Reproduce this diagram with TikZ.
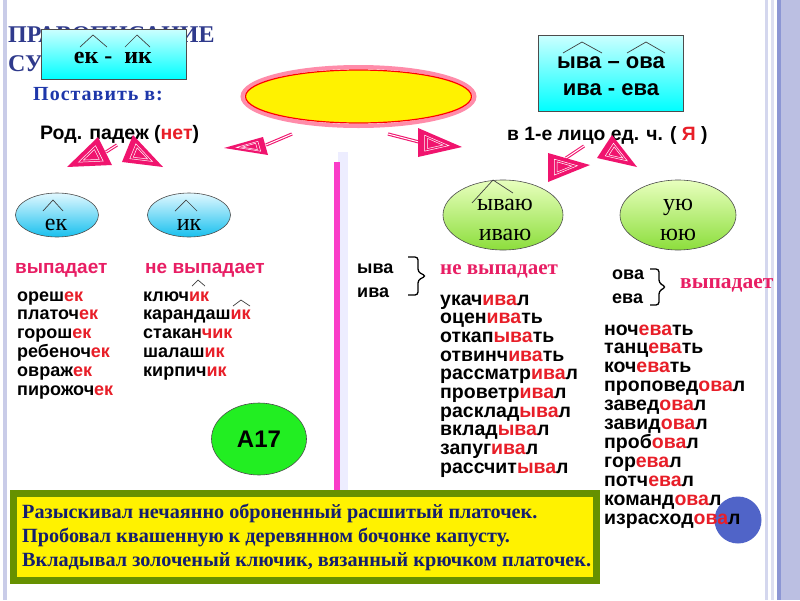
\documentclass[tikz,border=0pt]{standalone}
\usepackage{fontspec}
\setmainfont{Liberation Serif}
\newfontfamily\ar{Liberation Sans}
\newfontfamily\tm{Liberation Serif}
\usetikzlibrary{shapes.geometric,calc}
\definecolor{apink}{RGB}{240,20,110}
\definecolor{wred}{RGB}{232,30,40}
\definecolor{lpink}{RGB}{232,30,100}
\definecolor{titleblue}{RGB}{47,58,140}
\definecolor{postblue}{RGB}{30,55,170}
\definecolor{navy}{RGB}{20,30,110}
\definecolor{olive}{RGB}{102,145,0}
\definecolor{barpink}{RGB}{250,60,200}
\definecolor{lav}{RGB}{187,191,226}
\definecolor{lavd}{RGB}{140,150,212}
\definecolor{lavl}{RGB}{212,215,238}
\definecolor{bluec}{RGB}{80,100,200}
\definecolor{glowpink}{RGB}{255,140,170}
\newcommand\rd[1]{\textcolor{wred}{#1}}
\newcommand\fsz[1]{\fontsize{#1}{#1}\selectfont}
\newcommand\phead[4]{%
  \coordinate (#1a) at #2; \coordinate (#1b) at #3; \coordinate (#1c) at #4;
  \coordinate (#1g) at (barycentric cs:#1a=1,#1b=1,#1c=1);
  \fill[apink] (#1a)--(#1b)--(#1c)--cycle;
  \draw[white,line width=0.5pt] ($(#1g)!0.55!(#1a)$)--($(#1g)!0.55!(#1b)$)--($(#1g)!0.55!(#1c)$)--cycle;
  \draw[white,line width=0.5pt] ($(#1g)!0.35!(#1a)$)--($(#1g)!0.35!(#1b)$)--($(#1g)!0.35!(#1c)$)--cycle;
}
\tikzset{
  word/.style={anchor=base west, inner sep=0pt, font=\ar\bfseries\fsz{18}},
  wordr/.style={anchor=base west, inner sep=0pt, font=\ar\bfseries\fsz{19.5}},
  caret/.style={draw=black!75, line width=0.7pt},
  shaft/.style={draw=apink, line width=1.1pt, double=white, double distance=1pt},
  cyanbox/.style={draw=black!70, line width=0.8pt, top color=cyan!20, bottom color=cyan, inner sep=0pt},
  blueell/.style={ellipse, draw=black!70, line width=0.6pt, top color={rgb,255:red,225;green,248;blue,255}, bottom color={rgb,255:red,24;green,192;blue,238}, inner sep=0pt},
  greenell/.style={ellipse, draw=black!70, line width=0.6pt, top color={rgb,255:red,232;green,255;blue,190}, bottom color={rgb,255:red,140;green,222;blue,60}, inner sep=0pt},
  brace/.style={draw=black, line width=1.3pt, rounded corners=3pt},
}
\begin{document}
\begin{tikzpicture}[x=1pt,y=-1pt]
\useasboundingbox (0,0) rectangle (800,600);
\fill[white] (0,0) rectangle (800,600);
% borders
\fill[lav!80] (3,0) rectangle (7,600);
\fill[lavl] (765,0) rectangle (767.5,600);
\fill[lavl!80] (771,0) rectangle (774,600);
\fill[lavd] (777,0) rectangle (781,600);
\fill[lav] (781,0) rectangle (800,600);
% title
\node[anchor=base west, inner sep=0pt, font=\tm\bfseries\fsz{24}, text=titleblue] (t1) at (8,42) {ПРАВОПИСАНИЕ};
\node[anchor=base west, inner sep=0pt, font=\tm\bfseries\fsz{24}, text=titleblue] (t2) at (8,71) {СУФФИКСОВ};
% cyan boxes
\node[cyanbox, minimum width=145pt, minimum height=50pt] (box1) at (113.5,54) {};
\node[anchor=base, inner sep=0pt, font=\tm\bfseries\fsz{24}] (box1t) at (113,63) {ек -\ \ ик};
\draw[caret] (80,47)--(93,35)--(107,47);
\draw[caret] (125,47)--(137,35)--(150,47);
\node[cyanbox, minimum width=145pt, minimum height=76pt] (box2) at (610.5,73) {};
\node[anchor=base, inner sep=0pt, font=\ar\bfseries\fsz{22}] (box2a) at (611,68) {ыва – ова};
\node[anchor=base, inner sep=0pt, font=\ar\bfseries\fsz{22}] (box2b) at (611,95) {ива - ева};
\draw[caret] (563,53)--(582,42)--(602,53);
\draw[caret] (627,53)--(646,42)--(665,53);
% Поставить в:
\node[anchor=base west, inner sep=0pt, font=\tm\bfseries\fsz{20}\addfontfeatures{LetterSpace=5}, text=postblue] (post) at (33,100) {Поставить в:};
% yellow ellipse
\node[ellipse, minimum width=232pt, minimum height=59pt, draw=glowpink, line width=4pt] (yelg) at (358.5,96.5) {};
\node[ellipse, minimum width=226pt, minimum height=53pt, fill=yellow, draw=red, line width=1.2pt] (yel) at (358.5,96.5) {};
% headings
\node[anchor=base west, inner sep=0pt, font=\ar\bfseries\fsz{19.5}] (rod) at (40,139) {Род. падеж (\rd{нет})};
\node[anchor=base west, inner sep=0pt, font=\ar\bfseries\fsz{19.3}] (lico) at (507,140) {в 1-е лицо ед. ч. ( \rd{Я} )};
% arrows
\coordinate (s1a) at (292,134); \coordinate (s1b) at (266,145);
\draw[shaft] (s1a)--(s1b);
\phead{h1}{(224,148)}{(263,137)}{(268,155)}
\coordinate (s2a) at (117,145); \coordinate (s2b) at (106,152);
\draw[shaft] (s2a)--(s2b);
\phead{h2}{(67,167)}{(98,137)}{(112,165)}
\phead{h3}{(122,162)}{(133,135)}{(163,167)}
\coordinate (s4a) at (388,134); \coordinate (s4b) at (419,142);
\draw[shaft] (s4a)--(s4b);
\phead{h4}{(418,128)}{(462,147)}{(418,157)}
\coordinate (s5a) at (584,146); \coordinate (s5b) at (566,158);
\draw[shaft] (s5a)--(s5b);
\phead{h5}{(548,153)}{(590,165)}{(548,182)}
\phead{h6}{(597,158)}{(612,135)}{(637,167)}
% pink bar
\fill[blue!7] (338,152) rectangle (348,497);
\fill[barpink] (334,162) rectangle (340,492);
% ellipses
\node[blueell, minimum width=83pt, minimum height=44pt] (ek) at (57,215) {};
\node[anchor=base, inner sep=0pt, font=\tm\fsz{24}] (ekt) at (56,230) {ек};
\draw[caret] (43,211)--(53,200)--(63,211);
\node[blueell, minimum width=83pt, minimum height=44pt] (ik) at (189,215) {};
\node[anchor=base, inner sep=0pt, font=\tm\fsz{24}] (ikt) at (189,230) {ик};
\draw[caret] (175,211)--(186,200)--(197,211);
\node[greenell, minimum width=120pt, minimum height=70pt] (yv) at (503,215) {};
\node[anchor=base, inner sep=0pt, font=\tm\fsz{24}] (yv1) at (505,210) {ываю};
\node[anchor=base, inner sep=0pt, font=\tm\fsz{24}] (yv2) at (505,240) {иваю};
\draw[caret] (472,203)--(493,180)--(513,193);
\node[greenell, minimum width=116pt, minimum height=70pt] (uy) at (678,215) {};
\node[anchor=base, inner sep=0pt, font=\tm\fsz{24}] (uy1) at (678,210) {ую};
\node[anchor=base, inner sep=0pt, font=\tm\fsz{24}] (uy2) at (678,240) {юю};
% labels
\node[anchor=base west, inner sep=0pt, font=\ar\bfseries\fsz{19}, text=lpink] (vyp1) at (15,273) {выпадает};
\node[anchor=base west, inner sep=0pt, font=\ar\bfseries\fsz{19}, text=lpink] (nvyp1) at (145,273) {не выпадает};
\node[word] (yva) at (357,273) {ыва};
\node[word] (iva) at (357,297) {ива};
\draw[brace] (408,257) -| (418,272) -- (426,276) -- (418,280) |- (408,295);
\node[anchor=base west, inner sep=0pt, font=\tm\bfseries\fsz{21}, text=lpink] (nvyp2) at (440,274) {не выпадает};
\node[word] (ova) at (612,279) {ова};
\node[word] (eva) at (612,303) {ева};
\draw[brace] (650,269) -| (659,283) -- (666,287) -- (659,291) |- (650,305);
\node[anchor=base west, inner sep=0pt, font=\tm\bfseries\fsz{21.5}, text=lpink] (vyp2) at (680,288) {выпадает};
% lists
\foreach \w [count=\i from 0] in {{ореш\rd{ек}},{платоч\rd{ек}},{горош\rd{ек}},{ребеноч\rd{ек}},{овраж\rd{ек}},{пирожоч\rd{ек}}}
  \node[word] (le\i) at (17,{301+\i*18.8}) {\w};
\foreach \w [count=\i from 0] in {{ключ\rd{ик}},{карандаш\rd{ик}},{стакан\rd{чик}},{шалаш\rd{ик}},{кирпич\rd{ик}}}
  \node[word] (li\i) at (143,{301+\i*18.8}) {\w};
\draw[caret] (192,286)--(198,280)--(205,286);
\draw[caret] (233,306)--(241,300)--(250,306);
\foreach \w [count=\i from 0] in {{укач\rd{ива}л},{оцен\rd{ива}ть},{откап\rd{ыва}ть},{отвинч\rd{ива}ть},{рассматр\rd{ива}л},{проветр\rd{ива}л},{расклад\rd{ыва}л},{вклад\rd{ыва}л},{запуг\rd{ива}л},{рассчит\rd{ыва}л}}
  \node[wordr] (ly\i) at (440,{305+\i*18.7}) {\w};
\node[circle, fill=bluec, minimum size=47pt, inner sep=0pt] (bc) at (738,520) {};
\foreach \w [count=\i from 0] in {{ноч\rd{ева}ть},{танц\rd{ева}ть},{коч\rd{ева}ть},{проповед\rd{ова}л},{завед\rd{ова}л},{завид\rd{ова}л},{проб\rd{ова}л},{гор\rd{ева}л},{потч\rd{ева}л},{команд\rd{ова}л},{израсход\rd{ова}л}}
  \node[wordr] (lo\i) at (604,{335+\i*18.9}) {\w};
% A17
\node[ellipse, fill={rgb,255:red,34;green,238;blue,34}, draw=black!70, line width=0.6pt, minimum width=95pt, minimum height=72pt, inner sep=0pt, font=\ar\bfseries\fsz{24}] (a17) at (259,439) {A17};
% bottom box
\fill[olive] (10,490) rectangle (600,584);
\fill[yellow] (17,497) rectangle (593,577);
\node[anchor=base west, inner sep=0pt, font=\tm\bfseries\fsz{20.2}, text=navy] (s1) at (22,518) {Разыскивал нечаянно оброненный расшитый платочек.};
\node[anchor=base west, inner sep=0pt, font=\tm\bfseries\fsz{20.2}, text=navy] (s2) at (22,542) {Пробовал квашенную к деревянном бочонке капусту.};
\node[anchor=base west, inner sep=0pt, font=\tm\bfseries\fsz{20.2}, text=navy] (s3) at (22,566) {Вкладывал золоченый ключик, вязанный крючком платочек.};
\end{tikzpicture}
\end{document}
